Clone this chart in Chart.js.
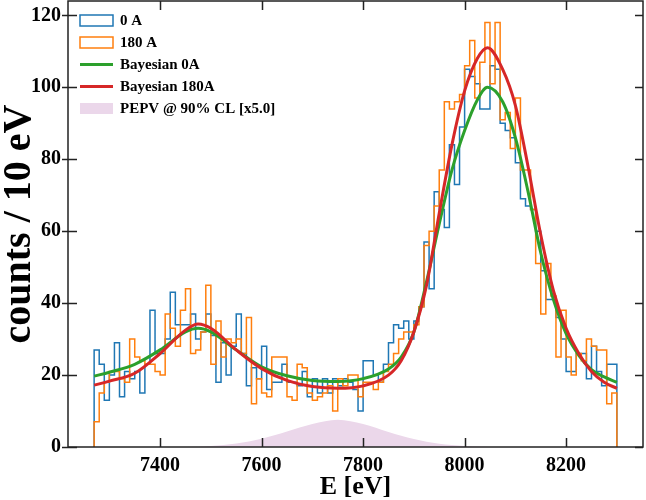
<!DOCTYPE html>
<html>
<head>
<meta charset="utf-8">
<script src="https://cdn.jsdelivr.net/npm/chart.js@4.4.0/dist/chart.umd.min.js"></script>
<style>
  html, body { margin: 0; padding: 0; background: #fff; }
</style>
</head>
<body>
<canvas id="myChart" width="646" height="500"></canvas>
<script>
// histogram: 10 eV bins starting at 7270 eV
const binStart = 7270;
const binWidth = 10;

const counts0A = [
  27, 23, 13, 20, 29, 14, 21, 19, 21, 15,
  23, 38, 26, 26, 30, 43, 34, 34, 34, 37,
  30, 32, 37, 31, 18, 29, 20, 28, 37, 26,
  17, 22, 19, 28, 16, 18, 18, 23, 18, 18,
  17, 21, 14, 19, 15, 19, 15, 19, 17, 19,
  18, 16, 10, 24, 24, 20, 18, 23, 29, 34,
  33, 35, 30, 35, 39, 57, 44, 71, 66, 61,
  84, 73, 89, 105, 103, 101, 94, 94, 106, 105,
  90, 88, 86, 79, 69, 67, 66, 60, 49, 41,
  41, 36, 30, 21, 21, 26, 26, 19, 28, 21,
  17, 23, 23
];

const counts180A = [
  7, 15, 18, 21, 21, 19, 18, 30, 25, 24,
  23, 23, 21, 20, 37, 33, 28, 38, 44, 26,
  27, 32, 45, 23, 35, 25, 30, 29, 30, 26,
  36, 12, 19, 15, 14, 25, 25, 25, 14, 13,
  23, 22, 15, 13, 14, 15, 17, 10, 19, 17,
  20, 20, 14, 18, 18, 16, 18, 21, 23, 26,
  30, 32, 32, 34, 39, 56, 60, 67, 77, 96,
  94, 96, 98, 106, 113, 97, 107, 118, 101, 118,
  91, 93, 83, 97, 77, 77, 66, 51, 37, 51,
  42, 25, 38, 25, 20, 26, 24, 30, 28, 27,
  27, 12, 15
];

// fitted curves
const fitEnergy = [7270, 7300, 7350, 7400, 7450, 7475, 7500, 7550, 7600, 7650,
  7700, 7750, 7800, 7850, 7875, 7900, 7925, 7950, 7975, 8000,
  8025, 8045, 8075, 8100, 8125, 8150, 8175, 8200, 8225, 8250, 8275, 8300];
const fit0A = [19.7, 20.8, 23, 27, 32, 33, 32, 27, 22.3, 19.8,
  18.5, 18.2, 19, 21.7, 25, 32, 46, 62, 77, 88,
  96.5, 100, 96, 86, 71, 54, 41, 31.5, 25.5, 21.5, 19.5, 18];
const fit180A = [17.2, 18.3, 20.5, 26, 32.5, 34.2, 33, 27, 21.8, 18.5,
  16.8, 16.3, 17, 20, 24, 32, 45, 65, 84, 99,
  108, 111, 105, 95, 78, 59, 43.5, 33, 26, 21, 18, 16.3];

const pepvEnergy = [7450, 7500, 7550, 7600, 7650, 7700, 7750, 7800, 7850, 7900, 7950, 8000, 8050];
const pepv = [0, 0.3, 1, 2.3, 4.3, 6.4, 7.6, 6.4, 4.2, 2.2, 0.9, 0.3, 0];

const xTicks = [7400, 7600, 7800, 8000, 8200];
const yTicks = [0, 20, 40, 60, 80, 100, 120];

const serif = "'Liberation Serif', 'Times New Roman', serif";

function stepPoints(counts) {
  const pts = [{ x: binStart, y: 0 }];
  counts.forEach((c, i) => pts.push({ x: binStart + i * binWidth, y: c }));
  pts.push({ x: binStart + counts.length * binWidth, y: 0 });
  return pts;
}
function curvePoints(xs, ys) {
  return xs.map((x, i) => ({ x: x, y: ys[i] }));
}

// box + inward ticks on all four sides
const frameTicks = {
  id: 'frameTicks',
  afterDatasetsDraw(chart) {
    const { ctx, chartArea: a, scales: { x, y } } = chart;
    ctx.save();
    ctx.strokeStyle = '#222';
    ctx.lineWidth = 1.5;
    ctx.strokeRect(a.left, a.top, a.right - a.left, a.bottom - a.top);
    ctx.beginPath();
    xTicks.forEach(v => {
      const px = Math.round(x.getPixelForValue(v)) + 0.5;
      ctx.moveTo(px, a.bottom); ctx.lineTo(px, a.bottom - 9);
      ctx.moveTo(px, a.top); ctx.lineTo(px, a.top + 9);
    });
    yTicks.forEach(v => {
      const py = Math.round(y.getPixelForValue(v)) + 0.5;
      ctx.moveTo(a.left - 6, py); ctx.lineTo(a.left + 9, py);
      ctx.moveTo(a.right, py); ctx.lineTo(a.right - 8, py);
    });
    ctx.stroke();
    ctx.restore();
  }
};

const legendBox = {
  id: 'legendBox',
  afterDraw(chart) {
    const { ctx } = chart;
    const x0 = 80, x1 = 113, tx = 120;
    const rows = [20.5, 42.5, 64.5, 86.5, 108.5];
    ctx.save();
    ctx.font = 'bold 15px ' + serif;
    ctx.textBaseline = 'middle';
    ctx.fillStyle = '#000';
    chart.data.datasets
      .filter(d => d.legendKind)
      .sort((a, b) => a.legendRank - b.legendRank)
      .forEach((d, i) => {
        const cy = rows[i];
        if (d.legendKind === 'box') {
          ctx.strokeStyle = d.borderColor;
          ctx.lineWidth = 1.5;
          ctx.strokeRect(x0, cy - 5.5, x1 - x0, 11);
        } else if (d.legendKind === 'line') {
          ctx.strokeStyle = d.borderColor;
          ctx.lineWidth = 3;
          ctx.beginPath();
          ctx.moveTo(x0, cy); ctx.lineTo(x1, cy);
          ctx.stroke();
        } else {
          ctx.fillStyle = d.backgroundColor;
          ctx.fillRect(x0, cy - 5.5, x1 - x0, 11);
          ctx.fillStyle = '#000';
        }
        ctx.fillText(d.label, tx, cy + 1);
      });
    ctx.restore();
  }
};

// keep the plot box fixed, no extra room for label overhang
function fixX(s) { s.height = 53; s.paddingLeft = 0; s.paddingRight = 0; }
function fixY(s) { s.width = 68; s.paddingTop = 0; s.paddingBottom = 0; }

const ctx = document.getElementById('myChart');

new Chart(ctx, {
  type: 'line',
  data: {
    datasets: [
      {
        label: '0 A',
        data: stepPoints(counts0A),
        stepped: true,
        borderColor: '#1f77b4',
        borderWidth: 1.5,
        pointRadius: 0,
        fill: false,
        order: 4,
        legendKind: 'box', legendRank: 1
      },
      {
        label: '180 A',
        data: stepPoints(counts180A),
        stepped: true,
        borderColor: '#ff7f0e',
        borderWidth: 1.5,
        pointRadius: 0,
        fill: false,
        order: 3,
        legendKind: 'box', legendRank: 2
      },
      {
        label: 'Bayesian 0A',
        data: curvePoints(fitEnergy, fit0A),
        borderColor: '#2ca02c',
        borderWidth: 3,
        pointRadius: 0,
        cubicInterpolationMode: 'monotone',
        fill: false,
        order: 2,
        legendKind: 'line', legendRank: 3
      },
      {
        label: 'Bayesian 180A',
        data: curvePoints(fitEnergy, fit180A),
        borderColor: '#d62728',
        borderWidth: 3,
        pointRadius: 0,
        cubicInterpolationMode: 'monotone',
        fill: false,
        order: 1,
        legendKind: 'line', legendRank: 4
      },
      {
        label: 'PEPV @ 90% CL [x5.0]',
        data: curvePoints(pepvEnergy, pepv),
        borderWidth: 0,
        borderColor: 'rgba(0,0,0,0)',
        backgroundColor: '#ebd7ea',
        pointRadius: 0,
        cubicInterpolationMode: 'monotone',
        fill: 'origin',
        order: 5,
        legendKind: 'fill', legendRank: 5
      }
    ]
  },
  options: {
    responsive: false,
    animation: false,
    layout: { padding: { top: 1, right: 3, left: 0, bottom: 0 } },
    plugins: {
      legend: { display: false },
      tooltip: { enabled: false }
    },
    scales: {
      x: {
        type: 'linear',
        min: 7218.5,
        max: 8351.5,
        afterBuildTicks: s => { s.ticks = xTicks.map(v => ({ value: v })); },
        afterFit: fixX,
        grid: { display: false, drawTicks: false },
        border: { display: false },
        ticks: {
          color: '#000',
          padding: 7,
          maxRotation: 0,
          autoSkip: false,
          callback: v => String(v),
          font: { family: serif, size: 20, weight: 'bold' }
        },
        title: {
          display: true,
          text: 'E [eV]',
          color: '#000',
          padding: 0,
          font: { family: serif, size: 26, weight: 'bold', lineHeight: 1 }
        }
      },
      y: {
        min: 0,
        max: 124,
        afterBuildTicks: s => { s.ticks = yTicks.map(v => ({ value: v })); },
        afterFit: fixY,
        grid: { display: false, drawTicks: false },
        border: { display: false },
        ticks: {
          color: '#000',
          padding: 7,
          autoSkip: false,
          callback: v => String(v),
          font: { family: serif, size: 20, weight: 'bold' }
        },
        title: {
          display: true,
          text: 'counts / 10 eV',
          color: '#000',
          padding: 0,
          font: { family: serif, size: 40, weight: 'bold', lineHeight: 1 }
        }
      }
    }
  },
  plugins: [frameTicks, legendBox]
});
</script>
</body>
</html>
